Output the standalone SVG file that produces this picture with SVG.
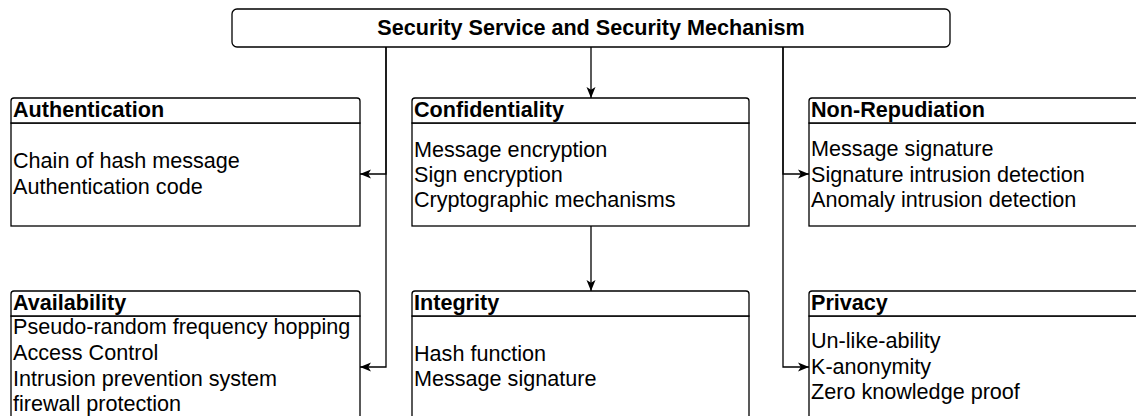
<svg xmlns="http://www.w3.org/2000/svg" width="1136" height="416" viewBox="0 0 1136 416">
  <defs>
    <marker id="arr" viewBox="0 0 11 10" refX="11" refY="5" markerWidth="11" markerHeight="10" markerUnits="userSpaceOnUse" orient="auto">
      <path d="M0,0.5 L11,5 L0,9.5 L2.8,5 Z" fill="#000"/>
    </marker>
    <style>
      .box{fill:#fff;stroke:#000;stroke-width:1.3}
      .hd{font-family:"Liberation Sans",Arial,sans-serif;font-size:21.6px;font-weight:bold;fill:#000}
      .tx{font-family:"Liberation Sans",Arial,sans-serif;font-size:21.6px;fill:#000}
      .edge{fill:none;stroke:#000;stroke-width:1.3;marker-end:url(#arr)}
    </style>
  </defs>
  <rect width="1136" height="416" fill="#fff"/>
  <g id="connectors">
    <path class="edge" d="M386,47 V174 H360"/>
    <path class="edge" d="M386,47 V367 H360"/>
    <path class="edge" d="M591,47 V98"/>
    <path class="edge" d="M591,226 V291"/>
    <path class="edge" d="M783,47 V174 H809"/>
    <path class="edge" d="M783,47 V367 H809"/>
  </g>
  <g id="root">
    <rect class="box" x="232" y="9" width="718" height="38" rx="5"/>
    <text class="hd" x="591" y="35" text-anchor="middle">Security Service and Security Mechanism</text>
  </g>
  <g id="authentication">
    <rect class="box" x="11" y="123" width="349" height="103"/>
    <path class="box" d="M11,123 V101 Q11,98 14,98 H357 Q360,98 360,101 V123 Z"/>
    <text class="hd" x="13" y="117">Authentication</text>
    <text class="tx" x="13" y="168">Chain of hash message</text>
    <text class="tx" x="13" y="194">Authentication code</text>
  </g>
  <g id="confidentiality">
    <rect class="box" x="412" y="123" width="337" height="103"/>
    <path class="box" d="M412,123 V101 Q412,98 415,98 H746 Q749,98 749,101 V123 Z"/>
    <text class="hd" x="414" y="117">Confidentiality</text>
    <text class="tx" x="414" y="157">Message encryption</text>
    <text class="tx" x="414" y="182">Sign encryption</text>
    <text class="tx" x="414" y="207">Cryptographic mechanisms</text>
  </g>
  <g id="non-repudiation">
    <rect class="box" x="809" y="123" width="349" height="103"/>
    <path class="box" d="M809,123 V101 Q809,98 812,98 H1155 Q1158,98 1158,101 V123 Z"/>
    <text class="hd" x="811" y="117">Non-Repudiation</text>
    <text class="tx" x="811" y="156">Message signature</text>
    <text class="tx" x="811" y="182">Signature intrusion detection</text>
    <text class="tx" x="811" y="207">Anomaly intrusion detection</text>
  </g>
  <g id="availability">
    <rect class="box" x="11" y="316" width="349" height="110"/>
    <path class="box" d="M11,316 V294 Q11,291 14,291 H357 Q360,291 360,294 V316 Z"/>
    <text class="hd" x="13" y="310">Availability</text>
    <text class="tx" x="13" y="334">Pseudo-random frequency hopping</text>
    <text class="tx" x="13" y="360">Access Control</text>
    <text class="tx" x="13" y="386">Intrusion prevention system</text>
    <text class="tx" x="13" y="411">firewall protection</text>
  </g>
  <g id="integrity">
    <rect class="box" x="412" y="316" width="337" height="110"/>
    <path class="box" d="M412,316 V294 Q412,291 415,291 H746 Q749,291 749,294 V316 Z"/>
    <text class="hd" x="414" y="310">Integrity</text>
    <text class="tx" x="414" y="361">Hash function</text>
    <text class="tx" x="414" y="386">Message signature</text>
  </g>
  <g id="privacy">
    <rect class="box" x="809" y="316" width="349" height="110"/>
    <path class="box" d="M809,316 V294 Q809,291 812,291 H1155 Q1158,291 1158,294 V316 Z"/>
    <text class="hd" x="811" y="310">Privacy</text>
    <text class="tx" x="811" y="348">Un-like-ability</text>
    <text class="tx" x="811" y="374">K-anonymity</text>
    <text class="tx" x="811" y="399">Zero knowledge proof</text>
  </g>
</svg>
